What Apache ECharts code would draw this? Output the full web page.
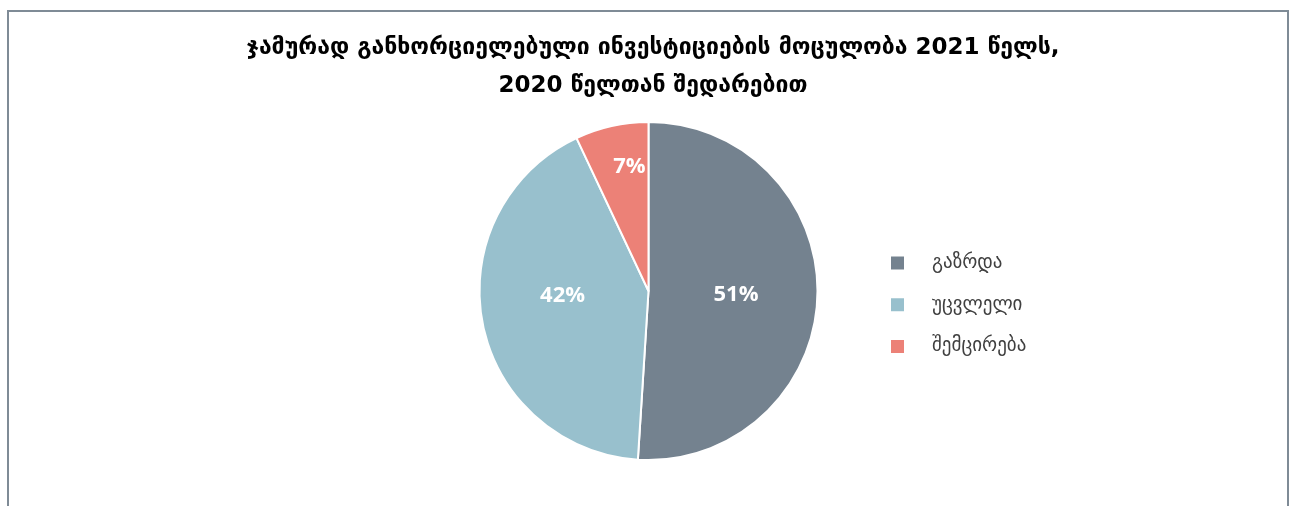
<!DOCTYPE html>
<html>
<head>
<meta charset="utf-8">
<script src="https://cdn.jsdelivr.net/npm/echarts@6/dist/echarts.min.js"></script>
<style>
html,body{margin:0;padding:0;background:#fff;overflow:hidden;}
#frame{position:absolute;left:7px;top:10px;width:1282px;height:520px;border:2px solid #7f8b96;box-sizing:border-box;border-bottom:none;}
#chart{position:absolute;left:0;top:0;width:1290px;height:506px;}
</style>
</head>
<body>
<div id="frame"></div>
<div id="chart"></div>
<script>
const titleLines = ['ჯამურად განხორციელებული ინვესტიციების მოცულობა 2021 წელს,', '2020 წელთან შედარებით'];
const categories = ['გაზრდა', 'უცვლელი', 'შემცირება'];
const values = [51, 42, 7];
const colors = ['#74828f', '#98c0cd', '#ec8177'];
const labelShiftY = [1, -12, -39];

const chart = echarts.init(document.getElementById('chart'), null, {renderer: 'canvas'});
chart.setOption({
  animation: false,
  title: {
    text: titleLines.join('\n'),
    left: 648,
    top: 24,
    textAlign: 'center',
    textStyle: {fontFamily: 'DejaVu Sans', fontWeight: 'bold', fontSize: 23, color: '#000', lineHeight: 38}
  },
  legend: {
    orient: 'vertical',
    left: 884,
    top: 248,
    itemWidth: 15,
    itemHeight: 15,
    itemGap: 21.7,
    icon: 'rect',
    data: categories,
    textStyle: {fontFamily: 'DejaVu Sans', fontSize: 19, color: '#404040', lineHeight: 20, padding: [0, 0, 0, 22]}
  },
  series: [{
    type: 'pie',
    center: [648.5, 291],
    radius: [0, 169],
    startAngle: 90,
    clockwise: true,
    itemStyle: {borderColor: '#fff', borderWidth: 2},
    label: {
      position: 'inside',
      formatter: '{c}%',
      color: '#fff',
      fontFamily: 'Open Sans',
      fontWeight: 'bold',
      fontSize: 22
    },
    labelLayout: function (p) { return {dy: labelShiftY[p.dataIndex]}; },
    labelLine: {show: false},
    emphasis: {disabled: true},
    data: categories.map((c, i) => ({name: c, value: values[i], itemStyle: {color: colors[i]}}))
  }]
});
</script>
</body>
</html>
